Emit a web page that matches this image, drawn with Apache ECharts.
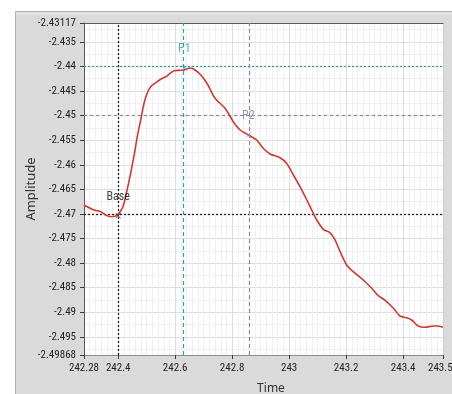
<!DOCTYPE html>
<html>
<head>
<meta charset="utf-8">
<style>
  html, body { margin: 0; padding: 0; background: #ffffff; }
  #chart { width: 452px; height: 394px; }
</style>
<script src="https://cdn.jsdelivr.net/npm/echarts@6/dist/echarts.min.js"></script>
</head>
<body>
<div id="chart"></div>
<script>
// Waveform samples (Time, Amplitude)
const timeValues = [
  242.280, 242.315, 242.339, 242.356, 242.374, 242.391, 242.397, 242.409, 242.418, 242.426,
  242.444, 242.455, 242.467, 242.479, 242.491, 242.502, 242.514, 242.532, 242.549, 242.567,
  242.582, 242.596, 242.614, 242.631, 242.652, 242.666, 242.690, 242.713, 242.740, 242.775,
  242.804, 242.828, 242.857, 242.886, 242.909, 242.933, 242.968, 242.991, 243.015, 243.038,
  243.062, 243.085, 243.097, 243.120, 243.143, 243.161, 243.179, 243.202, 243.225, 243.260,
  243.290, 243.313, 243.336, 243.366, 243.389, 243.413, 243.430, 243.453, 243.477, 243.506,
  243.518, 243.540
];
const amplitudeValues = [
  -2.46818, -2.46919, -2.46954, -2.47021, -2.47056, -2.47041, -2.47021, -2.46934, -2.46832, -2.46649,
  -2.46167, -2.45836, -2.45429, -2.45089, -2.44744, -2.44540, -2.44412, -2.44331, -2.44262, -2.44209,
  -2.44140, -2.44087, -2.44080, -2.44073, -2.44032, -2.44058, -2.44174, -2.44357, -2.44648, -2.44851,
  -2.45124, -2.45293, -2.45394, -2.45496, -2.45665, -2.45781, -2.45856, -2.45970, -2.46208, -2.46446,
  -2.46716, -2.46987, -2.47123, -2.47312, -2.47381, -2.47529, -2.47767, -2.48038, -2.48174, -2.48343,
  -2.48512, -2.48662, -2.48750, -2.48918, -2.49075, -2.49110, -2.49156, -2.49278, -2.49305, -2.49278,
  -2.49278, -2.49305
];

// Axis ranges and labelled ticks
const timeRange = [242.28, 243.54];
const ampRange = [-2.49868, -2.43117];
const timeTicks = [242.28, 242.4, 242.6, 242.8, 243, 243.2, 243.4, 243.54];
const ampTicks = [-2.49868, -2.495, -2.49, -2.485, -2.48, -2.475, -2.47, -2.465, -2.46,
                  -2.455, -2.45, -2.445, -2.44, -2.435, -2.43117];

// Cursors
const cursorNames = ['Base', 'P1', 'P2'];
const cursorTime = [242.4, 242.632, 242.857];
const cursorAmp = [-2.47035, -2.44032, -2.45394];

// Grid line spacing (major / minor)
const timeMajor = 0.2, timeMinor = 0.02;
const ampMajor = 0.005, ampMinor = 0.0025;

function gridLines(range, minor, major) {
  const vals = [], cols = [];
  const k0 = Math.ceil(range[0] / minor - 1e-6), k1 = Math.floor(range[1] / minor + 1e-6);
  for (let k = k0; k <= k1; k++) {
    const v = +(k * minor).toFixed(6);
    vals.push(v);
    const r = Math.abs(v / major - Math.round(v / major));
    cols.push(r < 1e-6 ? '#dcdcdc' : '#f0f0f0');
  }
  return { vals, cols };
}
const xGrid = gridLines(timeRange, timeMinor, timeMajor);
const yGrid = gridLines(ampRange, ampMinor, ampMajor);

const tickFont = "'Liberation Sans Narrow', 'Arial Narrow', 'Roboto Condensed', 'DejaVu Sans Condensed', sans-serif";
const nameFont = "'Noto Sans', 'Liberation Sans', sans-serif";

const cursorStyles = [
  { color: '#262626', text: '#111111', vType: [2, 2], hType: [2, 2], width: 1.3 },
  { color: '#2f9f9f', text: '#2f9f9f', vType: [4, 3], hType: [2, 2], width: 1.2 },
  { color: '#8a8aa4', text: '#7d7d96', vType: [4, 3], hType: [3, 3], width: 1.2 }
];

const cursorSeries = cursorNames.map((name, i) => {
  const st = cursorStyles[i];
  return {
    type: 'scatter',
    name: name,
    xAxisIndex: 1,
    yAxisIndex: 1,
    data: [[cursorTime[i], cursorAmp[i]]],
    symbol: 'path://M0 0 L10 10 M10 0 L0 10',
    symbolSize: 5,
    itemStyle: { color: 'none', borderColor: st.color, borderWidth: 1 },
    label: {
      show: true, position: 'top', distance: 8, formatter: name,
      color: st.text, fontSize: 12, fontFamily: tickFont
    },
    z: 6,
    silent: true,
    markLine: {
      silent: true,
      symbol: ['none', 'none'],
      label: { show: false },
      animation: false,
      data: [
        { xAxis: cursorTime[i], lineStyle: { color: st.color, type: st.vType, width: st.width } },
        { yAxis: cursorAmp[i], lineStyle: { color: st.color, type: st.hType, width: st.width } }
      ]
    }
  };
});

const chart = echarts.init(document.getElementById('chart'), null, { renderer: 'canvas' });
chart.setOption({
  animation: false,
  backgroundColor: '#ffffff',
  graphic: [
    { type: 'rect', z: -10, shape: { x: 15.5, y: 11.5, width: 440, height: 390 },
      style: { fill: '#dadada', stroke: '#b2b2b2', lineWidth: 1 } },
    { type: 'rect', z: -10, shape: { x: 16, y: 12.5, width: 440, height: 2 },
      style: { fill: '#e6e6e6' } },
    { type: 'rect', z: -9, shape: { x: 84, y: 23, width: 359, height: 332 },
      style: { fill: '#ffffff' } }
  ],
  grid: { left: 84, top: 23, right: 9, bottom: 39, show: false, outerBoundsMode: 'none' },
  xAxis: [
    {
      type: 'value', position: 'top', min: timeRange[0], max: timeRange[1], interval: timeMinor,
      axisLine: { show: true, onZero: false, lineStyle: { color: '#5a5a5a', width: 1 } },
      axisTick: { show: false, customValues: xGrid.vals },
      axisLabel: { show: false },
      splitLine: { show: true, lineStyle: { color: xGrid.cols, width: 1 } }
    },
    {
      type: 'value', position: 'bottom', min: timeRange[0], max: timeRange[1],
      name: 'Time', nameLocation: 'middle', nameGap: 28, nameMoveOverlap: false,
      nameTextStyle: { color: '#333333', fontSize: 12, fontFamily: nameFont, padding: [0, 0, 0, 15] },
      axisLine: { show: true, onZero: false, lineStyle: { color: '#8c8c8c', width: 1 } },
      axisTick: { show: true, length: 4, customValues: timeTicks, lineStyle: { color: '#3a3a3a' } },
      axisLabel: { customValues: timeTicks, color: '#222222', fontSize: 11, fontFamily: tickFont,
                   margin: 8, formatter: v => String(+v.toFixed(5)) },
      splitLine: { show: false }
    }
  ],
  yAxis: [
    {
      type: 'value', position: 'right', min: ampRange[0], max: ampRange[1],
      axisLine: { show: true, onZero: false, lineStyle: { color: '#cdcdcd', width: 1 } },
      axisTick: { show: false, customValues: yGrid.vals },
      axisLabel: { show: false },
      splitLine: { show: true, lineStyle: { color: yGrid.cols, width: 1 } }
    },
    {
      type: 'value', position: 'left', min: ampRange[0], max: ampRange[1],
      name: 'Amplitude', nameLocation: 'middle', nameGap: 46, nameRotate: 90, nameMoveOverlap: false,
      nameTextStyle: { color: '#333333', fontSize: 13, fontFamily: nameFont },
      axisLine: { show: true, onZero: false, lineStyle: { color: '#5a5a5a', width: 1 } },
      axisTick: { show: true, length: 4, customValues: ampTicks, lineStyle: { color: '#3a3a3a' } },
      axisLabel: { customValues: ampTicks, color: '#222222', fontSize: 11, fontFamily: tickFont,
                   margin: 8, formatter: v => String(+v.toFixed(5)) },
      splitLine: { show: false }
    }
  ],
  series: [
    {
      type: 'line',
      name: 'Amplitude',
      xAxisIndex: 1,
      yAxisIndex: 1,
      data: timeValues.map((t, i) => [t, amplitudeValues[i]]),
      showSymbol: false,
      smooth: 0.3,
      lineStyle: { color: '#cc3b33', width: 1.6 },
      z: 5,
      silent: true
    }
  ].concat(cursorSeries)
});
</script>
</body>
</html>
